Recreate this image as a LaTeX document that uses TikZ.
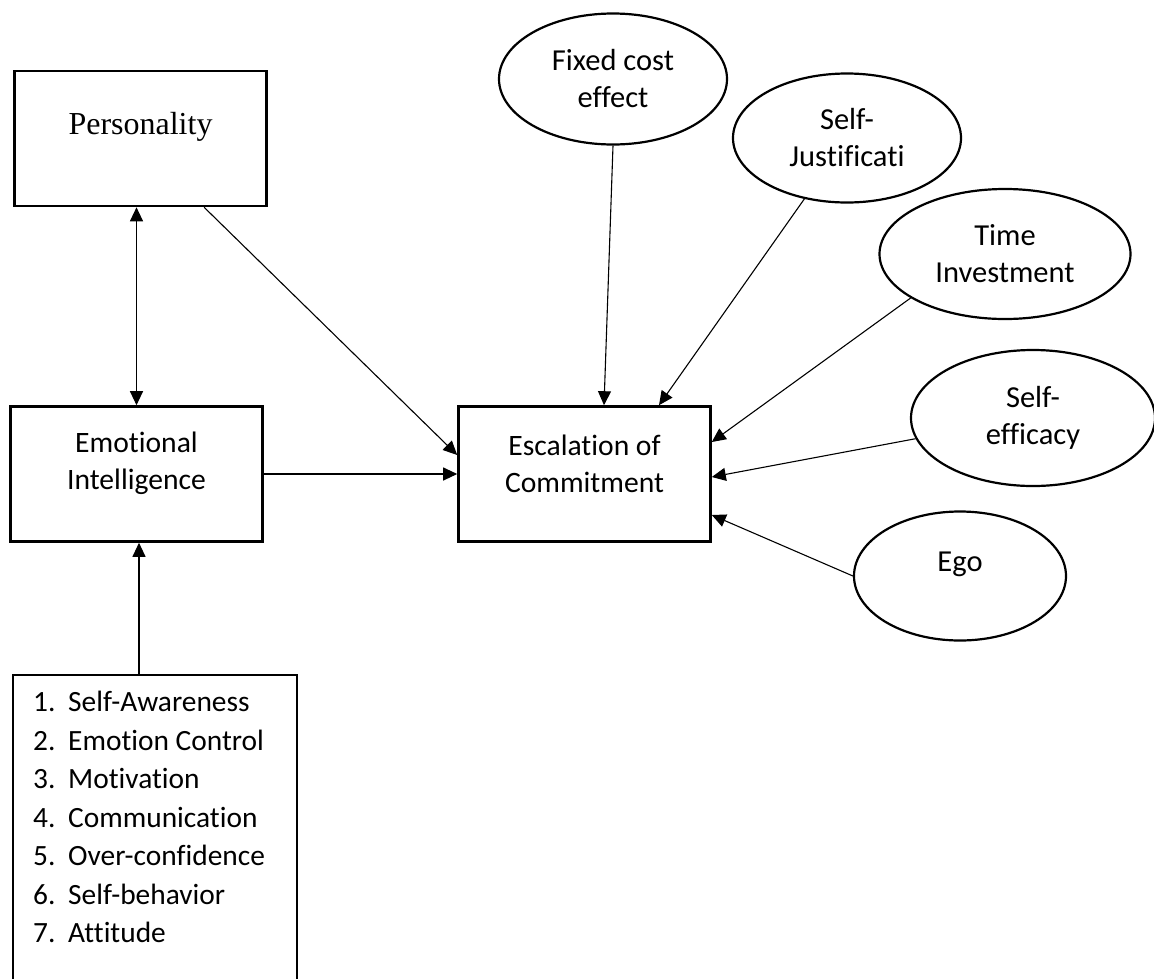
\documentclass[tikz,border=0pt]{standalone}
\usepackage{fontspec}
\setmainfont{Carlito}[Ligatures=NoCommon]
\newfontfamily\timesfont{Liberation Serif}
\usetikzlibrary{shapes.geometric,arrows.meta,calc}

\tikzset{
  box/.style={rectangle, draw, line width=2.6pt, minimum width=252pt, minimum height=135pt, inner sep=0pt},
  boxtext/.style={align=center, inner sep=0pt, font=\fontsize{29.6}{37}\selectfont},
  factor/.style={ellipse, draw, line width=2.2pt, inner sep=0pt, align=center, font=\fontsize{30.5}{37}\selectfont},
  link/.style={-{Triangle[length=14pt,width=13pt]}, line width=1.1pt},
  twoway/.style={{Triangle[length=14pt,width=13pt]}-{Triangle[length=14pt,width=13pt]}, line width=1.1pt}
}

\begin{document}
\begin{tikzpicture}[x=1pt,y=-1pt]
\useasboundingbox (0,0) rectangle (1154,978);

% Kaesten
\node[box] (pers) at (140.5,138.5) {};
\node[boxtext, font=\timesfont\fontsize{32}{38}\selectfont] (perstext) at ([yshift=11.5pt]pers.center) {Personality};
\node[box] (ei) at (136.5,474) {};
\node[boxtext] (eitext) at ([yshift=10.5pt]ei.center) {Emotional\\Intelligence};
\node[box] (esc) at (584.5,474) {};
\node[boxtext] (esctext) at ([yshift=10.5pt]esc.center) {Escalation of\\Commitment};
\node[box, minimum width=284pt, minimum height=310pt] (listbox) at (155,830) {};
\node[anchor=north west, inner sep=0pt, align=left, font=\fontsize{29.4}{38.5}\selectfont] (items) at (33,691)
  {\makebox[35pt][l]{1.}Self-Awareness\\
   \makebox[35pt][l]{2.}Emotion Control\\
   \makebox[35pt][l]{3.}Motivation\\
   \makebox[35pt][l]{4.}Communication\\
   \makebox[35pt][l]{5.}Over-confidence\\
   \makebox[35pt][l]{6.}Self-behavior\\
   \makebox[35pt][l]{7.}Attitude};

% Ellipsen
\node[factor, minimum width=228pt, minimum height=131pt] (fixed) at (613,79) {Fixed cost\\effect};
\node[factor, minimum width=228pt, minimum height=129pt] (selfj) at (847,138) {Self-\\Justificati};
\node[factor, minimum width=251pt, minimum height=130pt] (time) at (1005,254) {Time\\Investment};
\node[factor, minimum width=244pt, minimum height=136pt] (selfeff) at (1033,418) {Self-\\efficacy};
\node[factor, minimum width=212pt, minimum height=129pt] (ego) at (960,576) {\raisebox{28pt}{Ego}};

% Pfeile
\coordinate (eifoot) at ([xshift=2.5pt]ei.south);
\draw[twoway] (pers.south -| ei.north) -- (ei.north);
\draw[link] (listbox.north -| eifoot) -- (eifoot);
\draw[link] ($(pers.south)!0.5!(pers.south east)$) -- ([yshift=19pt]esc.west);
\draw[link] (ei.east) -- (ei.east -| esc.west);
\draw[link] (fixed.south) -- ([xshift=19.5pt]esc.north);
\draw[link] (selfj.235) -- ([xshift=74.5pt]esc.north);
\draw[link] (time.205) -- ([yshift=32pt]esc.east);
\draw[link] (selfeff.190) -- ([yshift=-3pt]esc.east);
\draw[link] (ego.west) -- ([yshift=-41pt]esc.east);
\end{tikzpicture}
\end{document}
